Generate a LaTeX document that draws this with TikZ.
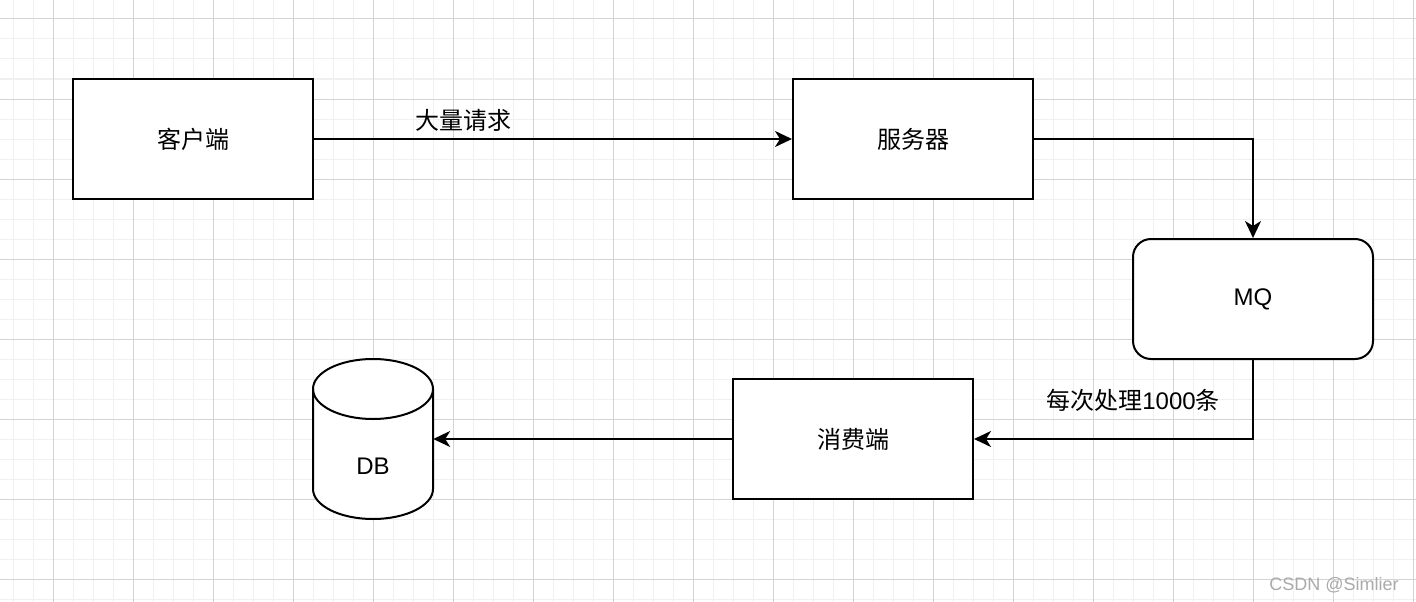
\documentclass[tikz,border=0pt]{standalone}
\usepackage{fontspec}
\setmainfont{Liberation Sans}
\newfontfamily\cjk{Noto Sans CJK SC}
\usetikzlibrary{arrows.meta}
\definecolor{minorgrid}{RGB}{240,240,240}
\definecolor{majorgrid}{RGB}{212,212,212}
\definecolor{wm}{RGB}{170,170,170}
\tikzset{
  box/.style={draw=black, line width=2pt, fill=white, minimum width=240pt, minimum height=120pt, inner sep=0pt, font=\fontsize{24}{28}\selectfont\cjk},
  rbox/.style={box, rounded corners=18pt},
  conn/.style={line width=2pt, -{Stealth[length=17pt,width=16pt,inset=5pt]}},
  lbl/.style={font=\fontsize{24}{28}\selectfont, inner sep=0pt},
}
\begin{document}
\begin{tikzpicture}[x=1pt,y=-1pt]
\useasboundingbox (0,0) rectangle (1416,602);
\fill[white] (0,0) rectangle (1416,602);
% grid
\foreach \x in {13,33,...,1413} \draw[minorgrid, line width=1pt] (\x,0) -- (\x,602);
\foreach \y in {19,39,...,599} \draw[minorgrid, line width=1pt] (0,\y) -- (1416,\y);
\foreach \x in {53,133,...,1413} \draw[majorgrid, line width=1pt] (\x,0) -- (\x,602);
\foreach \y in {19,99,...,599} \draw[majorgrid, line width=1pt] (0,\y) -- (1416,\y);
% nodes
\node[box] (client) at (193,139) {客户端};
\node[box] (server) at (913,139) {服务器};
\node[rbox, font=\fontsize{24}{28}\selectfont] (mq) at (1253,299) {MQ};
\node[box] (consumer) at (853,439) {消费端};
% DB cylinder
\node[minimum width=120pt, minimum height=160pt, inner sep=0pt] (db) at (373,439) {};
\filldraw[fill=white, draw=black, line width=2pt]
  (313,389) -- (313,489) arc[start angle=180, end angle=0, x radius=60, y radius=30]
  -- (433,389) arc[start angle=0, end angle=-180, x radius=60, y radius=30] -- cycle;
\draw[line width=2pt] (313,389) arc[start angle=180, end angle=0, x radius=60, y radius=30];
\node[lbl] (dbtext) at (373,466) {DB};
% connectors
\coordinate (c1) at (1253,139);
\coordinate (c2) at (1253,439);
\draw[conn] (client.east) -- (server.west);
\draw[conn] (server.east) -- (c1) -- (mq.north);
\draw[conn] (mq.south) -- (c2) -- (consumer.east);
\draw[conn] (consumer.west) -- (db.east);
% labels
\node[lbl] (l1) at (463,120) {\cjk 大量请求};
\node[lbl] (l2) at (1133,400) {{\cjk 每次处理}1000{\cjk 条}};
% watermark
\node[font=\fontsize{18}{20}\selectfont, text=wm, inner sep=0pt] (wmk) at (1334,585) {CSDN @Simlier};
\end{tikzpicture}
\end{document}
